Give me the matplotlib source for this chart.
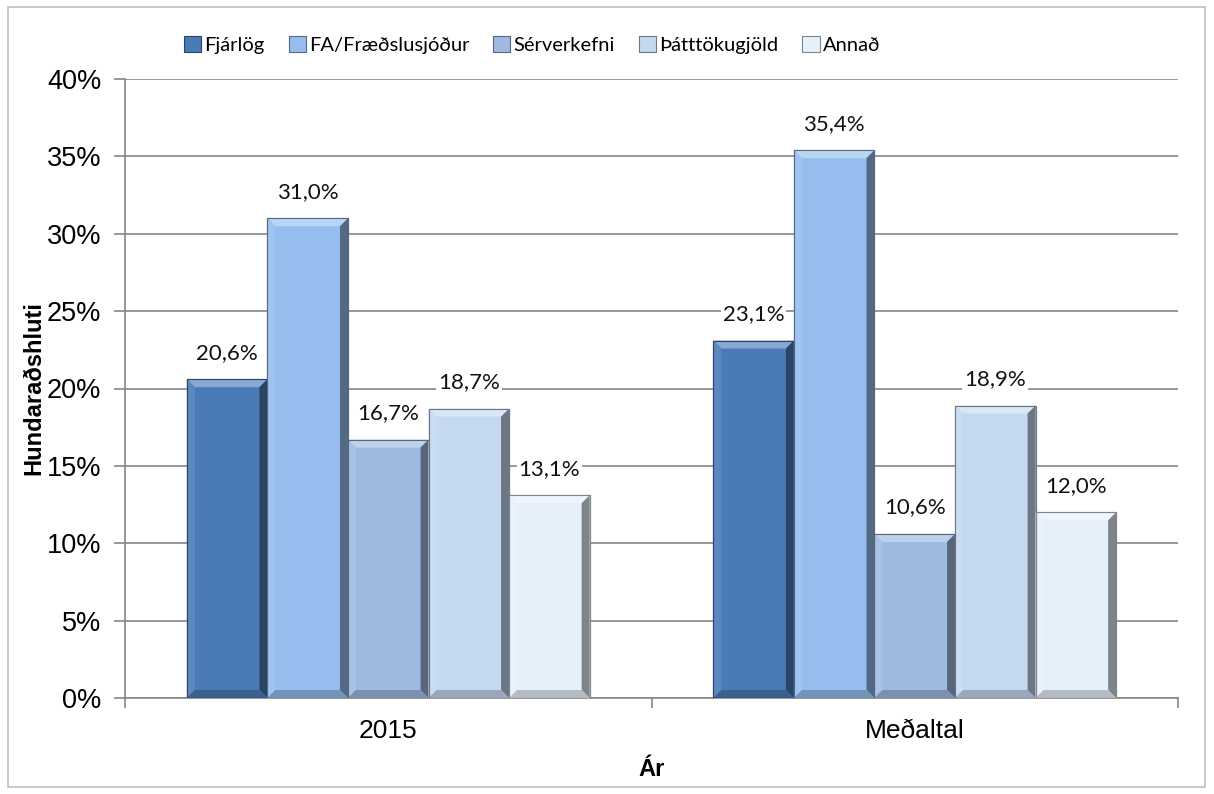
import matplotlib
matplotlib.use("Agg")
import matplotlib.pyplot as plt
import numpy as np
from matplotlib.patches import Polygon, Rectangle, Patch
from matplotlib.colors import to_rgb

plt.rcParams["font.family"] = ["Liberation Sans", "DejaVu Sans"]

categories = ["2015", "Meðaltal"]
series_names = ["Fjárlög", "FA/Fræðslusjóður", "Sérverkefni", "Þátttökugjöld", "Annað"]
values = {
    "Fjárlög": [20.6, 23.1],
    "FA/Fræðslusjóður": [31.0, 35.4],
    "Sérverkefni": [16.7, 10.6],
    "Þátttökugjöld": [18.7, 18.9],
    "Annað": [13.1, 12.0],
}
colors = ["#4A7BB7", "#95BDEE", "#9EBAE1", "#C4D8EF", "#E6F0FB"]
yticks = [0, 5, 10, 15, 20, 25, 30, 35, 40]

W, H = 1214, 794
fig = plt.figure(figsize=(W / 100, H / 100), dpi=100)
ax = fig.add_axes([125 / W, 1 - 698 / H, (1178 - 125) / W, (698 - 79) / H])

def mix(c, t, amt):
    c = np.array(to_rgb(c)); t = np.array(to_rgb(t))
    return tuple(c * (1 - amt) + t * amt)

bw = 0.153
n = len(series_names)
x = np.arange(len(categories))
bx = 8 / 527.0   # bevel in data units x
by = 8 / 15.475  # bevel in data units y

for i, (name, col) in enumerate(zip(series_names, colors)):
    offs = (i - (n - 1) / 2) * bw
    vals = values[name]
    bars = ax.bar(x + offs, vals, width=bw, color=col, edgecolor=mix(col, "black", 0.45),
                  linewidth=0.8, zorder=3)
    for rect, v in zip(bars, vals):
        x0 = rect.get_x(); x1 = x0 + rect.get_width(); y0 = 0; y1 = v
        ax.add_patch(Polygon([(x0, y1), (x1, y1), (x1 - bx, y1 - by), (x0 + bx, y1 - by)],
                             closed=True, facecolor=mix(col, "white", 0.35), edgecolor="none", zorder=4))
        ax.add_patch(Polygon([(x0, y0), (x0, y1), (x0 + bx, y1 - by), (x0 + bx, y0 + by)],
                             closed=True, facecolor=mix(col, "white", 0.1), edgecolor="none", zorder=4))
        ax.add_patch(Polygon([(x1, y0), (x1, y1), (x1 - bx, y1 - by), (x1 - bx, y0 + by)],
                             closed=True, facecolor=mix(col, "black", 0.45), edgecolor="none", zorder=4))
        ax.add_patch(Polygon([(x0, y0), (x1, y0), (x1 - bx, y0 + by), (x0 + bx, y0 + by)],
                             closed=True, facecolor=mix(col, "black", 0.22), edgecolor="none", zorder=4))
        ax.add_patch(Rectangle((x0, y0), x1 - x0, y1 - y0, facecolor="none",
                               edgecolor=mix(col, "black", 0.45), linewidth=0.8, zorder=5))
        ax.annotate(f"{v:.1f}".replace(".", ",") + "%", (rect.get_x() + rect.get_width() / 2, v),
                    xytext=(0, 19), textcoords="offset points", ha="center", va="center",
                    fontsize=16, family="Lato", color="#111111", zorder=6,
                    bbox=dict(facecolor="white", edgecolor="none", pad=1.5))

ax.set_xlim(-0.5, len(categories) - 0.5)
ax.set_ylim(0, 40)
ax.set_yticks(yticks)
ax.set_yticklabels([f"{t}%" for t in yticks], fontsize=19.5)
ax.yaxis.grid(True, color="#868686", linewidth=1.2, zorder=0)
ax.set_axisbelow(True)

ax.set_xticks(x)
ax.set_xticklabels(categories, fontsize=19)
ax.tick_params(axis="x", length=0, pad=15)
ax.set_xticks(np.arange(len(categories) + 1) - 0.5, minor=True)
ax.tick_params(axis="x", which="minor", length=7, color="#868686", width=1.2)
ax.tick_params(axis="y", length=8, color="#868686", width=1.2, pad=9)

for s in ["top", "right"]:
    ax.spines[s].set_visible(False)
for s in ["left", "bottom"]:
    ax.spines[s].set_color("#868686")
    ax.spines[s].set_linewidth(1.2)

ax.set_xlabel("Ár", fontsize=17, fontweight="bold", labelpad=11)
ax.set_ylabel("Hundaraðshluti", fontsize=17, fontweight="bold", labelpad=1)

handles = [Patch(facecolor=c, edgecolor=mix(c, "black", 0.45), linewidth=0.8) for c in colors]
fig.legend(handles, series_names, loc="center", bbox_to_anchor=(532 / W, 1 - 45 / H), ncol=5,
           frameon=False, prop={"family": "Lato", "size": 14.5}, handlelength=0.85, handleheight=0.85,
           handletextpad=0.15, columnspacing=1.2)

fig.add_artist(Rectangle((8 / W, 7 / H), (1205 - 8) / W, (787 - 7) / H, transform=fig.transFigure,
                         facecolor="none", edgecolor="#BFBFBF", linewidth=1.2))

fig.savefig("out.png", dpi=100)
